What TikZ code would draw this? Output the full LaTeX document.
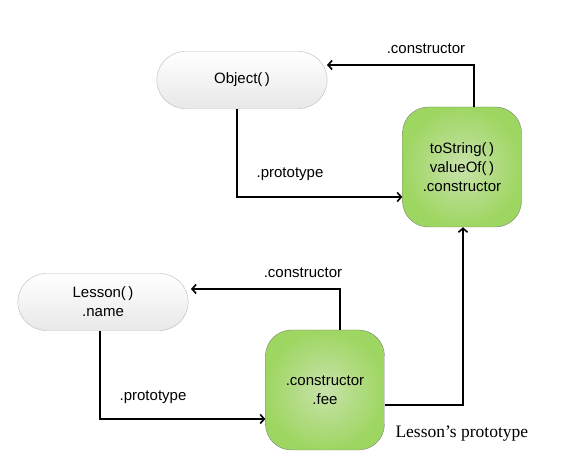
\documentclass[tikz,border=0pt]{standalone}
\usepackage{fontspec}
\setmainfont{Liberation Serif}
\newfontfamily\boxfont{Liberation Sans}
\usetikzlibrary{shapes.misc,arrows.meta}

\definecolor{protoin}{RGB}{200,226,170}
\definecolor{protoout}{RGB}{158,214,98}
\definecolor{protoline}{RGB}{120,130,110}

\begin{document}
\begin{tikzpicture}[x=1pt,y=-1pt,
	ctor/.style={rounded rectangle, draw=gray!55, top color=white, bottom color=gray!18,
		minimum width=177pt, minimum height=57pt, align=center,
		font=\boxfont\fontsize{15}{19}\selectfont},
	proto/.style={rectangle, rounded corners=26pt, draw=protoline, inner color=protoin,
		outer color=protoout, minimum width=119pt, minimum height=120pt, align=center,
		font=\boxfont\fontsize{15}{19}\selectfont},
	link/.style={line width=1.6pt, -{Straight Barb[length=4pt,width=9pt]}},
	lbl/.style={font=\boxfont\fontsize{15}{18}\selectfont}]

	\useasboundingbox (0,0) rectangle (574,462);

	% constructor functions
	\node[ctor] (object) at (242,80) {Object(\,)};
	\node[ctor] (lesson) at (103,302) {Lesson(\,)\\.name};

	% prototype objects
	\node[proto] (objproto) at (462,167) {toString(\,)\\valueOf(\,)\\.constructor};
	\node[proto] (lesproto) at (325,390) {.constructor\\.fee};
	\node[anchor=west, font=\fontsize{17.5}{20}\selectfont] (lescap) at (392,434) {Lesson’s prototype};

	\coordinate (a) at (474,65);
	\coordinate (b) at (327,65);
	\coordinate (c) at (237,197);
	\coordinate (d) at (340,289);
	\coordinate (e) at (191,289);
	\coordinate (f) at (100,419);
	\coordinate (g) at (463,405);

	\draw[link] (objproto.north -| a) -- (a) -- (b);
	\draw[link] (object.south -| c) -- (c) -- (c -| objproto.west);
	\draw[link] (lesproto.north -| d) -- (d) -- (e);
	\draw[link] (lesson.south -| f) -- (f) -- (f -| lesproto.west);
	\draw[link] (lesproto.east |- g) -- (g) -- (objproto.south -| g);

	\node[lbl] (ctortop) at (426,49) {.constructor};
	\node[lbl] (prototop) at (290,174) {.prototype};
	\node[lbl] (ctorbot) at (303,273) {.constructor};
	\node[lbl] (protobot) at (153,397) {.prototype};

\end{tikzpicture}
\end{document}
